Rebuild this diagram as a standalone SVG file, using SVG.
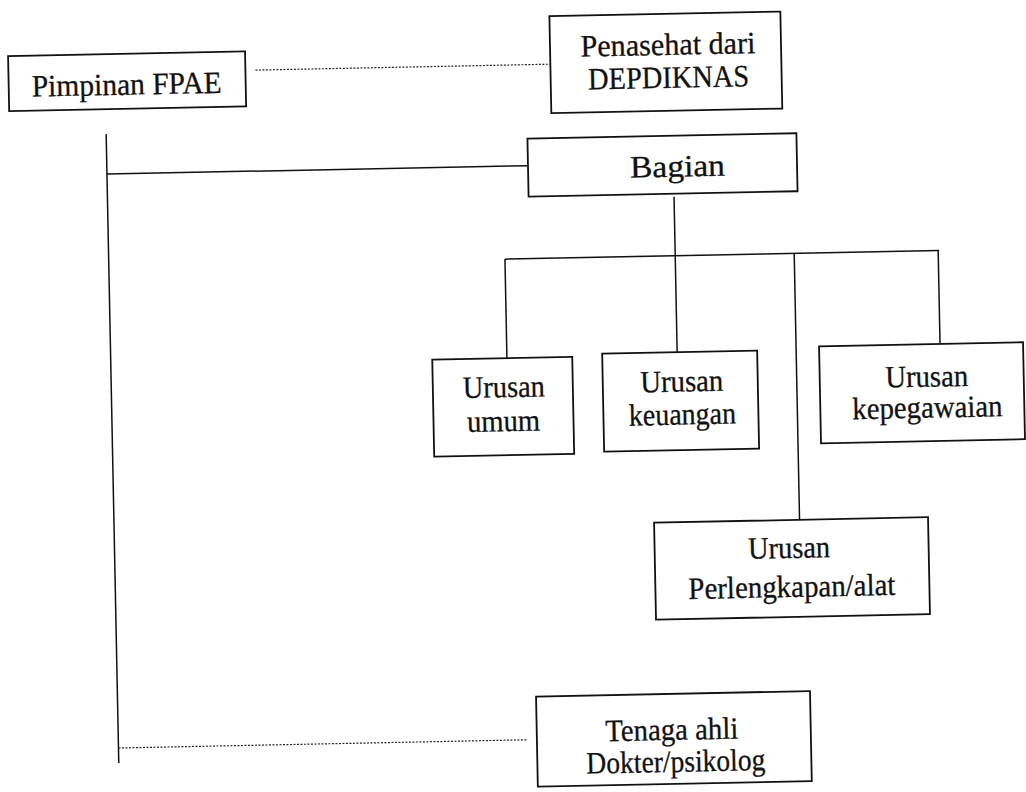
<svg xmlns="http://www.w3.org/2000/svg" width="1026" height="792" viewBox="0 0 1026 792">
<style>
.box{fill:#fff;stroke:#111;stroke-width:1.8}
.ln{fill:none;stroke:#111;stroke-width:1.5}
.dot{fill:none;stroke:#222;stroke-width:1.2;stroke-dasharray:2 1.5}
text{font-family:"Liberation Serif","Times New Roman",serif;font-size:31px;fill:#111;stroke:#111;stroke-width:0.3;text-anchor:middle}
</style>
<rect width="1026" height="792" fill="#fff"/>
<g transform="rotate(-1.15 513 396)">
<g id="connectors">
<line class="dot" x1="262" y1="65" x2="557" y2="65"/>
<line class="ln" x1="111.5" y1="126" x2="111.5" y2="755"/>
<line class="ln" x1="111.5" y1="166" x2="532.6" y2="166"/>
<line class="ln" x1="678" y1="200" x2="678" y2="356"/>
<line class="ln" x1="507.7" y1="259" x2="942" y2="259"/>
<line class="ln" x1="507.7" y1="259" x2="507.7" y2="358"/>
<line class="ln" x1="797" y1="259" x2="797" y2="525"/>
<line class="ln" x1="941" y1="259" x2="941" y2="352"/>
<line class="dot" x1="111.5" y1="740" x2="521" y2="740"/>
</g>
<g id="pimpinan">
<rect class="box" x="15" y="46" width="237" height="55"/>
<text x="133" y="87" textLength="190" lengthAdjust="spacingAndGlyphs">Pimpinan FPAE</text>
</g>
<g id="penasehat">
<rect class="box" x="557" y="17" width="231" height="97"/>
<text x="675" y="58" textLength="175" lengthAdjust="spacingAndGlyphs">Penasehat dari</text>
<text x="675" y="91" textLength="161" lengthAdjust="spacingAndGlyphs">DEPDIKNAS</text>
</g>
<g id="bagian">
<rect class="box" x="532.6" y="139" width="269" height="58"/>
<text x="682" y="180" textLength="95" lengthAdjust="spacingAndGlyphs">Bagian</text>
</g>
<g id="umum">
<rect class="box" x="433" y="358" width="140" height="97"/>
<text x="504" y="397" textLength="82" lengthAdjust="spacingAndGlyphs">Urusan</text>
<text x="503" y="431" textLength="73" lengthAdjust="spacingAndGlyphs">umum</text>
</g>
<g id="keuangan">
<rect class="box" x="603" y="355.5" width="155" height="98"/>
<text x="682" y="395" textLength="83" lengthAdjust="spacingAndGlyphs">Urusan</text>
<text x="682" y="428" textLength="107" lengthAdjust="spacingAndGlyphs">keuangan</text>
</g>
<g id="kepegawaian">
<rect class="box" x="820" y="352.5" width="204" height="97"/>
<text x="927" y="395" textLength="83" lengthAdjust="spacingAndGlyphs">Urusan</text>
<text x="927" y="426" textLength="150" lengthAdjust="spacingAndGlyphs">kepegawaian</text>
</g>
<g id="perlengkapan">
<rect class="box" x="651.5" y="525.5" width="274" height="97"/>
<text x="786" y="563.5" textLength="82" lengthAdjust="spacingAndGlyphs">Urusan</text>
<text x="788" y="602.5" textLength="207" lengthAdjust="spacingAndGlyphs">Perlengkapan/alat</text>
</g>
<g id="tenaga">
<rect class="box" x="530" y="697" width="274" height="90"/>
<text x="665" y="743" textLength="133" lengthAdjust="spacingAndGlyphs">Tenaga ahli</text>
<text x="668.5" y="775" textLength="179" lengthAdjust="spacingAndGlyphs">Dokter/psikolog</text>
</g>
</g>
</svg>
